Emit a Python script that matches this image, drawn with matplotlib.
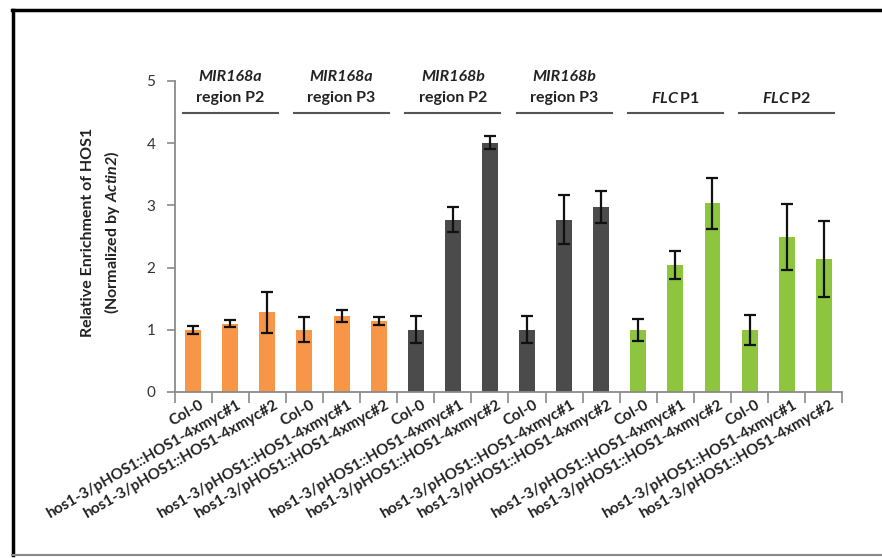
import matplotlib
matplotlib.use('Agg')
import matplotlib.pyplot as plt
from matplotlib.lines import Line2D
import numpy as np

plt.rcParams['font.family'] = ['Lato', 'DejaVu Sans']
plt.rcParams['mathtext.fontset'] = 'custom'
plt.rcParams['mathtext.rm'] = 'Lato:bold'
plt.rcParams['mathtext.bf'] = 'Lato:bold'
plt.rcParams['mathtext.it'] = 'Lato:bold:italic'
plt.rcParams['mathtext.bfit'] = 'Lato:bold:italic'

# datos
lineas = ['Col-0', 'hos1-3/pHOS1::HOS1-4xmyc#1', 'hos1-3/pHOS1::HOS1-4xmyc#2']
grupos_gen = ['MIR168a', 'MIR168a', 'MIR168b', 'MIR168b', 'FLC', 'FLC']
grupos_region = ['region P2', 'region P3', 'region P2', 'region P3', 'P1', 'P2']

valores = [1.00, 1.10, 1.28,
           1.00, 1.22, 1.14,
           1.00, 2.77, 4.01,
           1.00, 2.77, 2.97,
           1.00, 2.04, 3.03,
           1.00, 2.49, 2.14]
errores = [0.06, 0.06, 0.33,
           0.20, 0.10, 0.06,
           0.22, 0.20, 0.11,
           0.22, 0.39, 0.26,
           0.18, 0.23, 0.41,
           0.24, 0.53, 0.61]

colores_grupo = ['#f79646', '#f79646', '#4b4b4b', '#4b4b4b', '#8dc53e', '#8dc53e']

etiquetas = lineas * len(grupos_gen)
colores = [c for c in colores_grupo for _ in lineas]
x = np.arange(len(valores))

fig = plt.figure(figsize=(8.82, 5.58), dpi=100)
ax = fig.add_axes([0.198, 0.2975, 0.757, 0.5575])

ax.bar(x, valores, width=0.43, color=colores, zorder=2)
ax.errorbar(x, valores, yerr=errores, fmt='none', ecolor='#111111',
            elinewidth=1.6, capsize=4, capthick=1.6, zorder=3)

ax.set_xlim(-0.5, len(valores) - 0.5)
ax.set_ylim(0, 5)
ax.set_yticks(range(6))
ax.tick_params(axis='y', length=6, width=1.2, color='#8a8a8a', labelsize=11,
               labelcolor='#333333', pad=8)

ax.set_xticks(x)
ax.set_xticklabels(etiquetas, rotation=30, ha='right', va='top',
                   rotation_mode='anchor', fontsize=11, fontweight='bold',
                   color='#222222')
ax.set_xticks(np.arange(-0.5, len(valores)), minor=True)
ax.tick_params(axis='x', which='major', length=0, pad=4)
ax.tick_params(axis='x', which='minor', length=8, width=1.2, color='#8a8a8a')
for lab in ax.get_xticklabels():
    lab.set_transform(lab.get_transform() + matplotlib.transforms.ScaledTranslation(6/100, 0, fig.dpi_scale_trans))

for s in ['top', 'right']:
    ax.spines[s].set_visible(False)
for s in ['left', 'bottom']:
    ax.spines[s].set_color('#8a8a8a')
    ax.spines[s].set_linewidth(1.3)

# encabezados de cada grupo
for g, (gen, reg) in enumerate(zip(grupos_gen, grupos_region)):
    centro = g * 3 + 1
    ax.plot([g * 3 - 0.28, g * 3 + 2.28], [4.48, 4.48], color='#555555',
            lw=1.5, clip_on=False)
    if gen == 'FLC':
        ax.text(centro, 4.71, r'$\mathbfit{FLC}\,\mathbf{' + reg + '}$',
                ha='center', va='center', fontsize=11.5, color='#222222')
    else:
        ax.text(centro, 5.06, gen, ha='center', va='center', fontsize=11.5,
                fontweight='bold', fontstyle='italic', color='#222222')
        ax.text(centro, 4.73, reg, ha='center', va='center', fontsize=11.5,
                fontweight='bold', color='#222222')

ax.text(-0.130, 0.514, 'Relative Enrichment of HOS1', rotation=90,
        transform=ax.transAxes, ha='center', va='center', fontsize=11.5,
        fontweight='bold', color='#222222')
ax.text(-0.094, 0.514, r'$\mathbf{(Normalized\ by\ }\mathbfit{Actin2}\mathbf{)}$',
        rotation=90, transform=ax.transAxes, ha='center', va='center',
        fontsize=11.5, color='#222222')

# marco exterior
fig.add_artist(Line2D([13/882, 13/882], [1 - 555/558, 1 - 10/558], color='black',
                      lw=2.5, transform=fig.transFigure))
fig.add_artist(Line2D([12/882, 1.0], [1 - 10/558, 1 - 10/558], color='black',
                      lw=2.5, transform=fig.transFigure))
fig.add_artist(Line2D([12/882, 1.0], [1 - 555/558, 1 - 555/558], color='#888888',
                      lw=1.5, transform=fig.transFigure))

plt.savefig('out.png', dpi=100)
